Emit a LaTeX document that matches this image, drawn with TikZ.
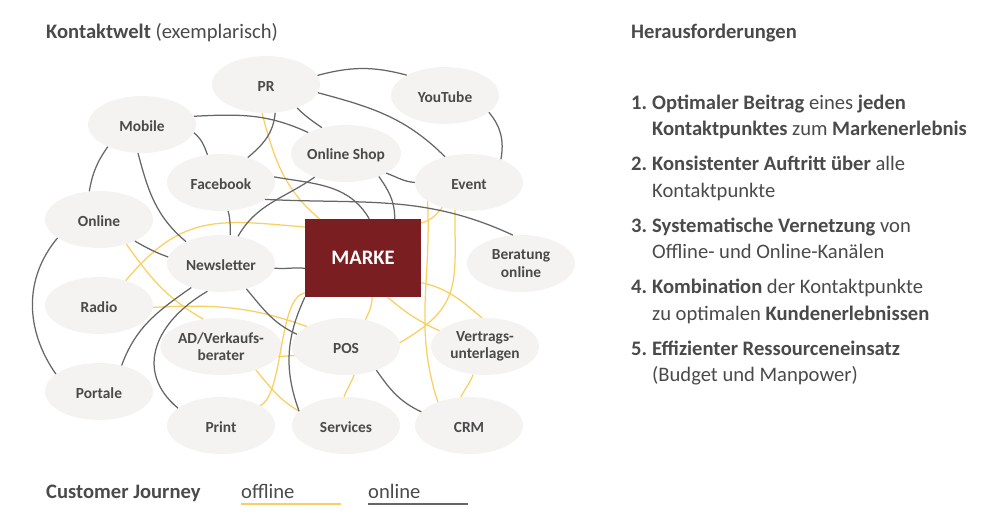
\documentclass[tikz,border=0pt]{standalone}
\usepackage{fontspec}
\setmainfont{Carlito}
\usetikzlibrary{shapes.geometric}
\definecolor{ink}{HTML}{4A4A4A}
\definecolor{wire}{HTML}{666666}
\definecolor{gold}{HTML}{F9CF5F}
\definecolor{blob}{HTML}{F4F3F1}
\definecolor{brand}{HTML}{7A1E21}
\newcommand{\numbered}[2]{\makebox[21pt][l]{\textbf{#1}}#2}
\tikzset{
  x=1pt,y=1pt,
  touch/.style={ellipse,fill=blob,draw=none,minimum width=108pt,minimum height=57pt,inner sep=0pt,
    align=center,text=ink,font=\fontsize{15.4}{17.5}\selectfont\bfseries,
    execute at begin node={\rule{0pt}{14pt}}},
  kern/.style={rectangle,fill=brand,draw=none,minimum width=116pt,minimum height=78pt,inner sep=0pt,
    text=white,font=\fontsize{20.6}{22}\selectfont\bfseries},
  dk/.style={draw=wire,line width=1.25pt},
  yl/.style={draw=gold,line width=1.25pt},
  txt/.style={anchor=base west,inner sep=0pt,text=ink,font=\fontsize{20.6}{22}\selectfont},
}
\begin{document}
\begin{tikzpicture}
\useasboundingbox (0,-514) rectangle (1000,0);
\node[touch] (pr) at (266,-84.5) {PR};
\node[touch] (mob) at (142,-124.5) {Mobile};
\node[touch] (fb) at (221,-182.5) {Facebook};
\node[touch] (onl) at (99,-219.5) {Online};
\node[touch] (yt) at (445,-95.5) {YouTube};
\node[touch] (osh) at (346,-153.5) {Online Shop};
\node[touch] (ev) at (469,-182.5) {Event};
\node[touch] (ber) at (521,-263.5) {Beratung\\online};
\node[touch] (nl) at (221,-263.5) {Newsletter};
\node[touch] (rad) at (99,-305.5) {Radio};
\node[touch] (por) at (99,-391.5) {Portale};
\node[touch] (ad) at (221,-346.5) {AD/Verkaufs-\\berater};
\node[touch] (pri) at (221,-425.5) {Print};
\node[touch] (pos) at (346,-346.5) {POS};
\node[touch] (ver) at (485,-346.5) {Vertrags-\\unterlagen};
\node[touch] (srv) at (346,-425.5) {Services};
\node[touch] (crm) at (469,-425.5) {CRM};
\node[kern] (m) at (363,-258) {MARKE};
% yellow
\draw[yl] (pr.-98) to[out=-75,in=140] (m.138);
\draw[yl] (onl.-42) to[out=-55,in=150] (ad.123);
\draw[yl] (rad.43) to[out=50,in=175,looseness=1.2] (m.152.6);
\draw[yl] (rad.-2.6) to[out=3,in=160] (pos.153);
\draw[yl] (pri.27) .. controls (284,-395) and (278,-297) .. (m.211);
\draw[yl] (ad.-10.5) -- (pos.190.5);
\draw[yl] (ad.-34.6) to[out=-50,in=150] (srv.163);
\draw[yl] (m.-77) to[out=-90,in=65] (pos.54);
\draw[yl] (m.-58) to[out=-40,in=155] (ver.161);
\draw[yl] (m.-23) to[out=-12,in=140] (ver.96);
\draw[yl] (pos.4) to[out=30,in=-90,looseness=1.3] (ev.-117);
\draw[yl] (crm.143.7) to[out=108,in=-87] (ev.204);
\draw[yl] (m.31) to[out=15,in=-130] (ev.-137);
\draw[yl] (pos.-74) to[out=-110,in=70] (srv.94);
\draw[yl] (ver.-113) to[out=-110,in=65] (crm.106);
% dark
\draw[dk] (mob.9.5) to[out=3,in=155] (osh.151);
\draw[dk] (mob.-9.5) to[out=-40,in=110] (fb.116);
\draw[dk] (mob.-98) to[out=-75,in=140] (nl.148);
\draw[dk] (mob.213.5) to[out=235,in=80] (onl.109);
\draw[dk] (pr.-72.5) to[out=-95,in=40] (fb.43);
\draw[dk] (pr.10) to[out=15,in=165] (yt.152);
\draw[dk] (pr.-9.3) to[out=-15,in=135] (ev.133);
\draw[dk] (pr.-37) to[out=-45,in=145] (osh.133);
\draw[dk] (yt.-21.7) to[out=-50,in=80] (ev.36);
\draw[dk] (osh.-26) to[out=-20,in=175] (ev.180);
\draw[dk] (osh.-35.5) to[out=-55,in=90] (m.51.5);
\draw[dk] (osh.217) to[out=215,in=60] (nl.58);
\draw[dk] (fb.6) to[out=-10,in=120] (m.81);
\draw[dk] (fb.-21) to[out=-3,in=155] (ber.106);
\draw[dk] (fb.-76) to[out=-75,in=90] (nl.72.5);
\draw[dk] (onl.-31) to[out=-30,in=160] (nl.173);
\draw[dk] (onl.204) to[out=-130,in=125] (por.158);
\draw[dk] (nl.-5) to[out=-5,in=175] (m.190);
\draw[dk] (nl.219) to[out=215,in=70] (por.49);
\draw[dk] (nl.244) to[out=210,in=140,looseness=1.25] (pri.158);
\draw[dk] (nl.-45.6) to[out=-50,in=155] (pos.166);
\draw[dk] (m.214.4) to[out=245,in=110] (srv.163);
\draw[dk] (pos.-38) to[out=-55,in=155] (crm.164);
% texts
\node[txt] (t1) at (46,-38.7) {\textbf{Kontaktwelt} (exemplarisch)};
\node[txt] (t2) at (631,-38.7) {\textbf{Herausforderungen}};
\node[txt] (l1) at (631,-109.5) {\numbered{1.}{\textbf{Optimaler Beitrag} eines \textbf{jeden}}};
\node[txt] (l2) at (652,-135.5) {\textbf{Kontaktpunktes} zum \textbf{Markenerlebnis}};
\node[txt] (l3) at (631,-170.5) {\numbered{2.}{\textbf{Konsistenter Auftritt über} alle}};
\node[txt] (l4) at (652,-197.5) {Kontaktpunkte};
\node[txt] (l5) at (631,-232.5) {\numbered{3.}{\textbf{Systematische Vernetzung} von}};
\node[txt] (l6) at (652,-258.5) {Offline- und Online-Kanälen};
\node[txt] (l7) at (631,-293.5) {\numbered{4.}{\textbf{Kombination} der Kontaktpunkte}};
\node[txt] (l8) at (652,-320) {zu optimalen \textbf{Kundenerlebnissen}};
\node[txt] (l9) at (631,-355) {\numbered{5.}{\textbf{Effizienter Ressourceneinsatz}}};
\node[txt] (l10) at (652,-381) {(Budget und Manpower)};
\node[txt] (b1) at (46,-498.5) {\textbf{Customer Journey}};
\node[txt] (b2) at (241,-498.5) {offline};
\node[txt] (b3) at (368,-498.5) {online};
\coordinate (ya) at (241,-504);
\coordinate (yb) at (341,-504);
\coordinate (da) at (368,-504);
\coordinate (db) at (468,-504);
\draw[yl] (ya) -- (yb);
\draw[dk] (da) -- (db);
\end{tikzpicture}
\end{document}
